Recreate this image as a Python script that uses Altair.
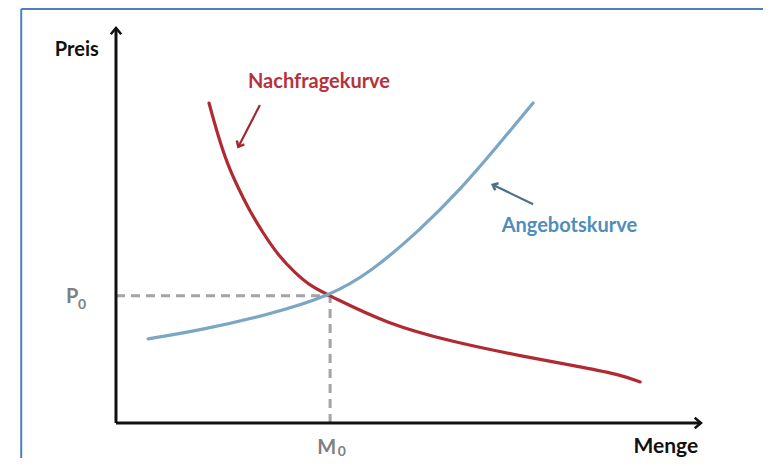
import altair as alt
import pandas as pd

# ---- data (Menge / Preis in abstract units) ----
demand_m = [1.59, 1.74, 1.91, 2.09, 2.26, 2.50, 2.77, 3.06, 3.35, 3.66, 4.63, 5.76, 6.91, 8.05, 8.62, 8.96]
demand_p = [8.10, 7.29, 6.53, 5.95, 5.44, 4.84, 4.25, 3.80, 3.44, 3.22, 2.51, 2.05, 1.70, 1.39, 1.22, 1.04]
supply_m = [0.55, 1.44, 2.58, 3.66, 4.34, 5.20, 5.88, 6.51, 7.13]
supply_p = [2.13, 2.35, 2.73, 3.22, 3.80, 4.89, 5.90, 6.99, 8.10]
M0, P0 = 3.66, 3.22
axis_max_m, axis_max_p = 10.0, 10.0

label_text = ["Preis", "Menge", "Nachfragekurve", "Angebotskurve"]
label_m = [-0.67, 9.40, 3.47, 7.75]
label_p = [9.44, -0.60, 8.64, 4.98]
label_color = ["#111111", "#111111", "#b8313a", "#4f8dba"]
label_size = [20, 21, 20, 20]

eq_text = ["P", "0", "M", "0"]
eq_m = [-0.75, -0.58, 3.60, 3.86]
eq_p = [3.18, 2.98, -0.63, -0.74]
eq_size = [20, 14, 20, 14]

X_DOM = [-1.846, 11.060]
Y_DOM = [-0.886, 10.506]
W, H = 755, 450

xs = alt.Scale(domain=X_DOM, nice=False, zero=False)
ys = alt.Scale(domain=Y_DOM, nice=False, zero=False)

curves = pd.DataFrame(
    {"m": demand_m + supply_m,
     "p": demand_p + supply_p,
     "s": ["Nachfrage"] * len(demand_m) + ["Angebot"] * len(supply_m),
     "o": list(range(len(demand_m))) + list(range(len(supply_m)))}
)

def seg(rows):
    return pd.DataFrame(rows, columns=["m", "p", "m2", "p2"])

frame = seg([[-1.62, Y_DOM[0], -1.62, 10.48], [-1.62, 10.48, X_DOM[1], 10.48]])
axes = seg([[0, 0, 0, axis_max_p], [0, 0, axis_max_m, 0]])
dashes = seg([[0, P0, M0, P0], [M0, 0, M0, P0]])
red_arrow = seg([[2.46, 8.05, 2.09, 6.99]])
blue_arrow = seg([[7.13, 5.54, 6.44, 6.03]])

def rules(df, color, width, dash=None):
    kw = dict(color=color, strokeWidth=width, clip=False)
    if dash:
        kw["strokeDash"] = dash
    return alt.Chart(df).mark_rule(**kw).encode(
        x=alt.X("m:Q", scale=xs, axis=None),
        y=alt.Y("p:Q", scale=ys, axis=None),
        x2="m2:Q", y2="p2:Q")

chev = "M -1 1.2 L 0 0 L 1 1.2"
heads = pd.DataFrame({
    "m": [0, axis_max_m, 2.09, 6.44],
    "p": [axis_max_p, 0, 6.99, 6.03],
    "a": [0, 90, 207.6, 295.4],
    "c": ["#111111", "#111111", "#9e2a30", "#4c6f8a"],
    "z": [110, 110, 70, 60],
})

frame_l = rules(frame, "#4f7fc0", 2)
axes_l = rules(axes, "#111111", 3)
dash_l = rules(dashes, "#a3a3a8", 3, [9, 6])
red_arrow_l = rules(red_arrow, "#9e2a30", 2.2)
blue_arrow_l = rules(blue_arrow, "#4c6f8a", 2.2)

heads_l = alt.Chart(heads).mark_point(shape=chev, filled=False, strokeWidth=2.5, opacity=1).encode(
    x=alt.X("m:Q", scale=xs, axis=None),
    y=alt.Y("p:Q", scale=ys, axis=None),
    angle=alt.Angle("a:Q", scale=None),
    color=alt.Color("c:N", scale=None),
    size=alt.Size("z:Q", scale=None),
)

curve_l = alt.Chart(curves).mark_line(strokeWidth=3.2, interpolate="basis", strokeCap="round").encode(
    x=alt.X("m:Q", scale=xs, axis=None),
    y=alt.Y("p:Q", scale=ys, axis=None),
    color=alt.Color("s:N", scale=alt.Scale(domain=["Nachfrage", "Angebot"], range=["#b02a31", "#7ba6c4"]), legend=None),
    order="o:Q",
)

labels = pd.DataFrame({"t": label_text, "m": label_m, "p": label_p, "c": label_color, "f": label_size})
labels_l = alt.Chart(labels).mark_text(font="Lato", fontWeight="bold").encode(
    x=alt.X("m:Q", scale=xs, axis=None),
    y=alt.Y("p:Q", scale=ys, axis=None),
    text="t:N",
    color=alt.Color("c:N", scale=None),
    size=alt.Size("f:Q", scale=None),
)

eq = pd.DataFrame({"t": eq_text, "m": eq_m, "p": eq_p, "f": eq_size})
eq_l = alt.Chart(eq).mark_text(font="Lato", fontWeight="bold", color="#808080").encode(
    x=alt.X("m:Q", scale=xs, axis=None),
    y=alt.Y("p:Q", scale=ys, axis=None),
    text="t:N",
    size=alt.Size("f:Q", scale=None),
)

chart = alt.layer(
    frame_l, dash_l, curve_l, axes_l, red_arrow_l, blue_arrow_l, heads_l, labels_l, eq_l
).properties(
    width=W, height=H, padding=0, autosize="none", background="white"
).configure_view(stroke=None)

chart.save("out.html", embed_options={"renderer": "svg", "actions": False})
